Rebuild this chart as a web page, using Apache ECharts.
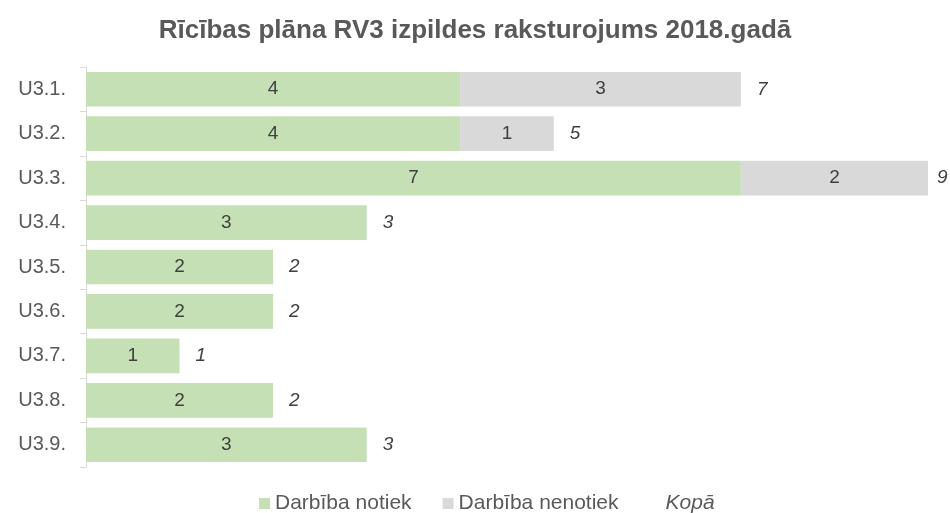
<!DOCTYPE html>
<html><head><meta charset="utf-8">
<script src="https://cdn.jsdelivr.net/npm/echarts@6/dist/echarts.min.js"></script>
<style>html,body{margin:0;padding:0;background:#fff}#c{width:950px;height:513px}</style>
</head><body><div id="c"></div>
<script>
var categories = ['U3.1.','U3.2.','U3.3.','U3.4.','U3.5.','U3.6.','U3.7.','U3.8.','U3.9.'];
var notiek = [4,4,7,3,2,2,1,2,3];
var nenotiek = [3,1,2,0,0,0,0,0,0];
var kopa = [7,5,9,3,2,2,1,2,3];
var seriesNames = ['Darbība notiek','Darbība nenotiek','Kopā'];
var titleText = 'Rīcības plāna RV3 izpildes raksturojums 2018.gadā';

var FONT = '"Liberation Sans", Arial, sans-serif';
var AXMAX = 9;
var chart = echarts.init(document.getElementById('c'), null, {renderer:'canvas'});
var kopaData = kopa.map(function(v){
  // total labels sit at the end of the stack; pull in the one at the far right edge
  return v >= AXMAX ? {value:0,label:{distance:9}} : 0;
});
chart.setOption({
  animation:false,
  textStyle:{fontFamily:FONT},
  title:{text:titleText,left:'center',top:13,textStyle:{fontFamily:FONT,fontSize:26,fontWeight:'bold',color:'#595959'}},
  legend:{
    top:488,left:254,itemWidth:11,itemHeight:11,itemGap:31,
    textStyle:{fontFamily:FONT,fontSize:21,color:'#595959'},
    data:[
      {name:seriesNames[0],icon:'rect'},
      {name:seriesNames[1],icon:'rect'},
      {name:seriesNames[2],icon:'rect',itemStyle:{color:'rgba(0,0,0,0)'},textStyle:{fontStyle:'italic'}}
    ]
  },
  grid:{left:86,right:22,top:67,bottom:46,containLabel:false},
  xAxis:{type:'value',min:0,max:AXMAX,show:false},
  yAxis:{type:'category',data:categories,inverse:true,
    axisLine:{lineStyle:{color:'#D9D9D9',width:1}},
    axisTick:{show:true,length:6,lineStyle:{color:'#D9D9D9'}},
    axisLabel:{fontFamily:FONT,fontSize:20,color:'#595959',margin:20}
  },
  series:[
    {name:seriesNames[0],type:'bar',stack:'s',data:notiek,barCategoryGap:'22%',
      itemStyle:{color:'#C5E0B4'},
      label:{show:true,position:'inside',fontFamily:FONT,fontSize:19,color:'#404040',
        formatter:function(p){return p.value?String(p.value):'';}}},
    {name:seriesNames[1],type:'bar',stack:'s',data:nenotiek,
      itemStyle:{color:'#D9D9D9'},
      label:{show:true,position:'inside',fontFamily:FONT,fontSize:19,color:'#404040',
        formatter:function(p){return p.value?String(p.value):'';}}},
    {name:seriesNames[2],type:'bar',stack:'s',data:kopaData,
      itemStyle:{color:'rgba(0,0,0,0)'},
      label:{show:true,position:'right',distance:16,fontFamily:FONT,fontSize:19,fontStyle:'italic',color:'#404040',
        formatter:function(p){return String(kopa[p.dataIndex]);}}}
  ]
});
</script></body></html>
